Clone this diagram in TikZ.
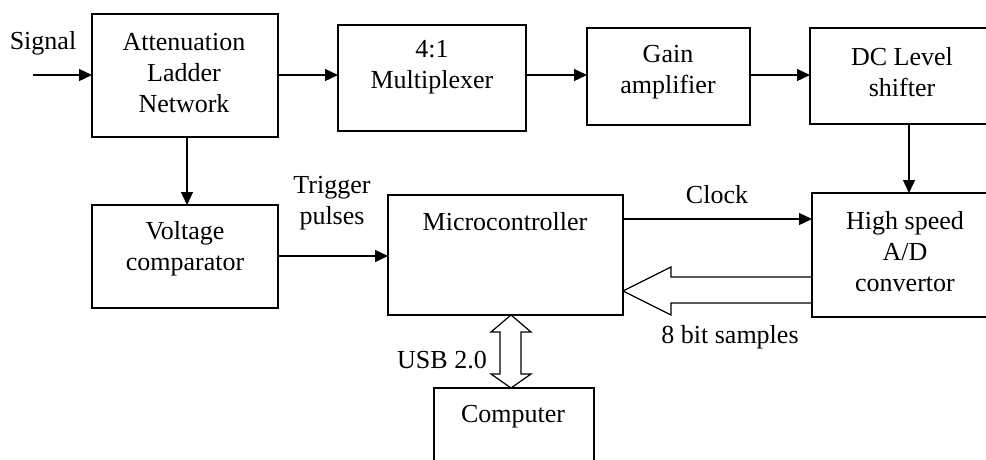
\documentclass[tikz,border=0pt]{standalone}
\usepackage{fontspec}
\setmainfont{Liberation Serif}
\usetikzlibrary{arrows.meta}
\begin{document}
\begin{tikzpicture}[x=1pt,y=1pt,
  box/.style={draw, line width=1.3pt, rectangle, inner sep=0pt, outer sep=0pt, anchor=north west},
  txt/.style={align=center, inner sep=0pt, font=\fontsize{26}{31}\selectfont},
  arr/.style={line width=1.3pt, -{Triangle[length=13pt,width=12pt]}},
  wide/.style={line width=1.2pt, line join=miter}]
\useasboundingbox (0,0) rectangle (986,-459);
\clip (0,0) rectangle (986,-459);
% boxes
\node[box, minimum width=186, minimum height=123] (att) at (92,-14) {};
\node[box, minimum width=188, minimum height=106] (mux) at (338,-25) {};
\node[box, minimum width=163, minimum height=97] (gain) at (587,-28) {};
\node[box, minimum width=184, minimum height=96] (dc) at (810,-28) {};
\node[box, minimum width=186, minimum height=103] (vc) at (92,-205) {};
\node[box, minimum width=235, minimum height=120] (mc) at (388,-195) {};
\node[box, minimum width=186, minimum height=124] (adc) at (812,-193) {};
\node[box, minimum width=160, minimum height=100] (comp) at (434,-388) {};
% texts
\node[txt] (attT) at (184,-73) {Attenuation\\Ladder\\Network};
\node[txt] (muxT) at (432,-67) {4:1\\Multiplexer};
\node[txt] (gainT) at (668,-72) {Gain\\amplifier};
\node[txt] (dcT) at (902,-72) {DC Level\\shifter};
\node[txt] (vcT) at (185,-249) {Voltage\\comparator};
\node[txt] (mcT) at (505,-222) {Microcontroller};
\node[txt] (adcT) at (905,-252) {High speed\\A/D\\convertor};
\node[txt] (compT) at (513,-417) {Computer};
% labels
\node[txt] (sigL) at (43,-43) {Signal};
\node[txt] (trigL) at (332,-203) {Trigger\\pulses};
\node[txt] (clkL) at (717,-195) {Clock};
\node[txt] (bitL) at (730,-337) {8 bit samples};
\node[txt] (usbL) at (442,-360) {USB 2.0};
% connectors
\coordinate (sigin) at (33,-75);
\draw[arr] (sigin) -- (att.west |- sigin);
\draw[arr] (att.east |- 0,-75) -- (mux.west |- 0,-75);
\draw[arr] (mux.east |- 0,-75) -- (gain.west |- 0,-75);
\draw[arr] (gain.east |- 0,-75) -- (dc.west |- 0,-75);
\draw[arr] (att.south -| 187,0) -- (vc.north -| 187,0);
\draw[arr] (dc.south -| 909,0) -- (adc.north -| 909,0);
\draw[arr] (vc.east |- 0,-256) -- (mc.west |- 0,-256);
\draw[arr] (mc.east |- 0,-219) -- (adc.west |- 0,-219);
% wide arrow: 8 bit samples
\draw[wide] (adc.west |- 0,-277) -- (671,-277) -- (671,-267) -- (mc.east |- 0,-291)
  -- (671,-315) -- (671,-303) -- (adc.west |- 0,-303);
% double wide arrow: USB
\draw[wide] (mc.south -| 511,0) -- (531,-332) -- (521,-332) -- (521,-374) -- (531,-374)
  -- (comp.north -| 511,0) -- (491,-374) -- (500,-374) -- (500,-332) -- (491,-332) -- cycle;
\end{tikzpicture}
\end{document}
